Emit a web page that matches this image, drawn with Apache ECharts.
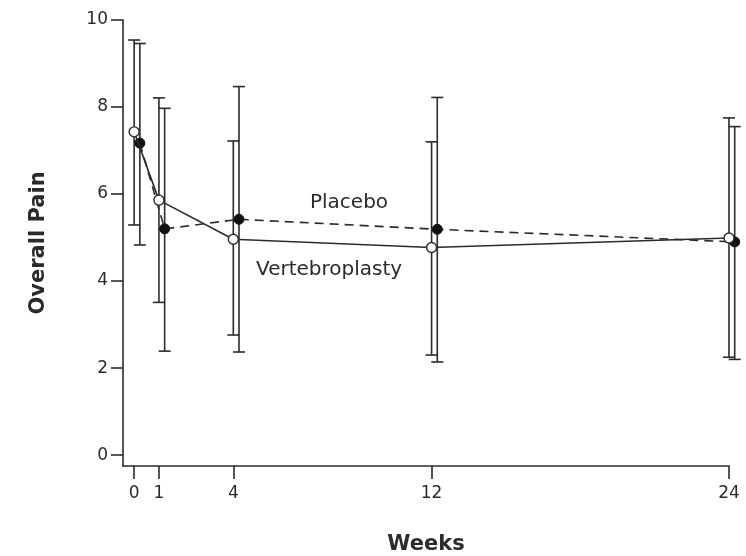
<!DOCTYPE html>
<html>
<head>
<meta charset="utf-8">
<script src="https://cdn.jsdelivr.net/npm/echarts@6/dist/echarts.min.js"></script>
<style>
  html, body { margin: 0; padding: 0; background: #fff; }
  #chart { width: 746px; height: 556px; }
</style>
</head>
<body>
<div id="chart"></div>
<script>
// Follow-up time points (weeks)
var weeks = [0, 1, 4, 12, 24];
var yTicks = [0, 2, 4, 6, 8, 10];

// Vertebroplasty group: mean overall pain and error-bar bounds
var vertMean = [7.43, 5.86, 4.96, 4.77, 4.99];
var vertLow  = [5.29, 3.51, 2.76, 2.30, 2.25];
var vertHigh = [9.54, 8.21, 7.22, 7.20, 7.75];

// Placebo group: mean overall pain and error-bar bounds
var placMean = [7.17, 5.20, 5.42, 5.19, 4.90];
var placLow  = [4.83, 2.39, 2.37, 2.14, 2.20];
var placHigh = [9.46, 7.97, 8.47, 8.22, 7.55];

// Placebo points are nudged right so the two groups' bars don't overlap
var placShift = 0.23;

var ink = '#2b2b2b';
var font = 'DejaVu Sans';

function pts(xs, ys, shift) {
  return xs.map(function (x, i) { return [x + shift, ys[i]]; });
}
function bars(xs, lo, hi, shift) {
  return xs.map(function (x, i) { return [x + shift, lo[i], hi[i]]; });
}

function errorBarItem(params, api) {
  var x = api.value(0);
  var pLo = api.coord([x, api.value(1)]);
  var pHi = api.coord([x, api.value(2)]);
  var half = 6;
  var style = { stroke: ink, lineWidth: 1.6, fill: null };
  return {
    type: 'group',
    children: [
      { type: 'line', shape: { x1: pLo[0], y1: pLo[1], x2: pHi[0], y2: pHi[1] }, style: style },
      { type: 'line', shape: { x1: pLo[0] - half, y1: pLo[1], x2: pLo[0] + half, y2: pLo[1] }, style: style },
      { type: 'line', shape: { x1: pHi[0] - half, y1: pHi[1], x2: pHi[0] + half, y2: pHi[1] }, style: style }
    ]
  };
}

var chart = echarts.init(document.getElementById('chart'));
chart.setOption({
  animation: false,
  backgroundColor: '#fff',
  grid: { left: 123, right: 17, top: 20, bottom: 90, containLabel: false, outerBoundsMode: 'none' },
  xAxis: {
    type: 'value',
    min: -0.45,
    max: 24,
    name: 'Weeks',
    nameLocation: 'middle',
    nameGap: 68,
    nameTextStyle: { fontFamily: font, fontWeight: 'bold', fontSize: 21, color: ink },
    axisLine: { show: true, onZero: false, lineStyle: { color: ink, width: 1.6 } },
    axisTick: { show: true, length: 13, customValues: weeks, lineStyle: { color: ink, width: 1.6 } },
    axisLabel: { customValues: weeks, margin: 19, fontFamily: font, fontSize: 17, color: ink },
    splitLine: { show: false }
  },
  yAxis: {
    type: 'value',
    min: -0.25,
    max: 10,
    name: 'Overall Pain',
    nameLocation: 'middle',
    nameGap: 74,
    nameTextStyle: { fontFamily: font, fontWeight: 'bold', fontSize: 21, color: ink },
    axisLine: { show: true, onZero: false, lineStyle: { color: ink, width: 1.6 } },
    axisTick: { show: true, length: 12, customValues: yTicks, lineStyle: { color: ink, width: 1.6 } },
    axisLabel: { customValues: yTicks, margin: 15, fontFamily: font, fontSize: 17, color: ink },
    splitLine: { show: false }
  },
  series: [
    {
      type: 'custom',
      name: 'Vertebroplasty range',
      renderItem: errorBarItem,
      data: bars(weeks, vertLow, vertHigh, 0),
      encode: { x: 0, y: [1, 2] },
      clip: false,
      z: 1
    },
    {
      type: 'custom',
      name: 'Placebo range',
      renderItem: errorBarItem,
      data: bars(weeks, placLow, placHigh, placShift),
      encode: { x: 0, y: [1, 2] },
      clip: false,
      z: 1
    },
    {
      type: 'line',
      name: 'Placebo',
      data: pts(weeks, placMean, placShift),
      symbol: 'circle',
      symbolSize: 10,
      clip: false,
      lineStyle: { color: ink, width: 1.6, type: [9, 6] },
      itemStyle: { color: '#111', borderColor: '#111', borderWidth: 1 },
      z: 3
    },
    {
      type: 'line',
      name: 'Vertebroplasty',
      data: pts(weeks, vertMean, 0),
      symbol: 'circle',
      symbolSize: 10,
      clip: false,
      lineStyle: { color: ink, width: 1.6 },
      itemStyle: { color: '#fff', borderColor: ink, borderWidth: 1.4 },
      z: 4
    }
  ],
  graphic: [
    { type: 'text', left: 310, top: 193, style: { text: 'Placebo', font: '20px "DejaVu Sans"', fill: ink } },
    { type: 'text', left: 256, top: 260, style: { text: 'Vertebroplasty', font: '20px "DejaVu Sans"', fill: ink } }
  ]
});
</script>
</body>
</html>
